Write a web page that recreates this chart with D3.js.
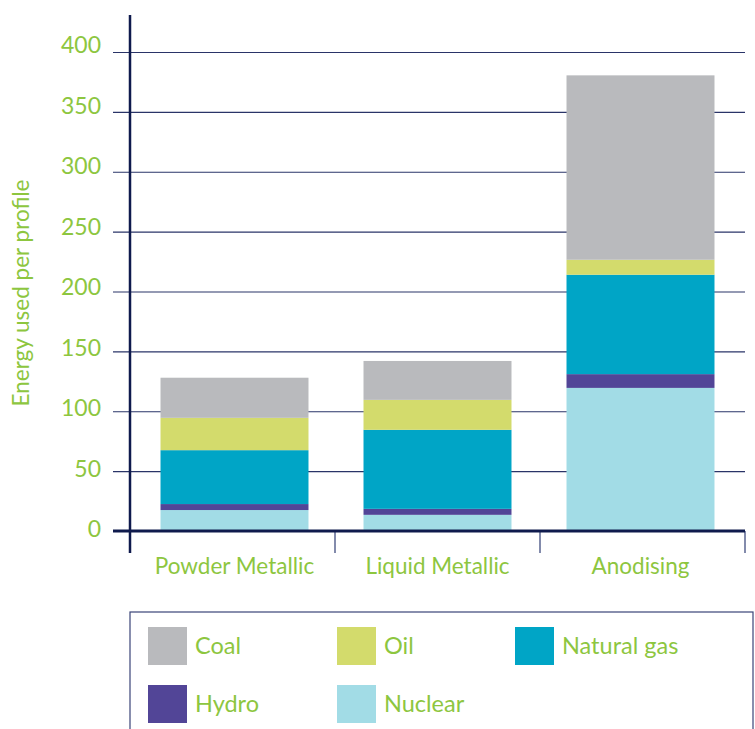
<!DOCTYPE html>
<html>
<head>
<meta charset="utf-8">
<script src="https://cdn.jsdelivr.net/npm/d3@7"></script>
<style>
  html, body { margin: 0; padding: 0; background: #fff; }
  svg { display: block; font-family: Lato, "Open Sans", sans-serif; }
  .grid line { stroke: #2a3468; stroke-width: 1.2; }
  .grid path { display: none; }
</style>
</head>
<body>
<svg id="chart" width="755" height="729"></svg>
<script>
// ── data ───────────────────────────────────────────────────────────────────
const categories = ['Powder Metallic', 'Liquid Metallic', 'Anodising'];
const nuclear    = [17.5, 13.5, 119.5];
const hydro      = [5, 5, 11.5];
const naturalGas = [45, 66, 83];
const oil        = [27, 25, 12.5];
const coal       = [33.5, 32.5, 154];
const yTicks     = [0, 50, 100, 150, 200, 250, 300, 350, 400];

const seriesNames  = ['Nuclear', 'Hydro', 'Natural gas', 'Oil', 'Coal'];
const seriesValues = [nuclear, hydro, naturalGas, oil, coal];
const colors = {
  'Coal': '#b9babd', 'Oil': '#d3db6c', 'Natural gas': '#00a5c6',
  'Hydro': '#524597', 'Nuclear': '#a2dce6'
};
const legendOrder = [['Coal', 'Oil', 'Natural gas'], ['Hydro', 'Nuclear']];
const GREEN = '#8dc63f', NAVY = '#0f1a4d';

// ── layout ─────────────────────────────────────────────────────────────────
const svg = d3.select('#chart');
const m = { left: 130, right: 745, top: 52, bottom: 531 };

const rows = categories.map((c, i) => {
  const r = { cat: c };
  seriesNames.forEach((s, j) => r[s] = seriesValues[j][i]);
  return r;
});
const stacked = d3.stack().keys(seriesNames)(rows);

const x = d3.scaleBand().domain(categories).range([133, 742]).paddingInner(0.271).paddingOuter(0.1355);
const xBand = d3.scaleBand().domain(categories).range([m.left, m.right]);
const y = d3.scaleLinear().domain([0, 400]).range([m.bottom, m.top]);
const yLabel = d3.scaleLinear().domain([0, 400]).range([529, 45]);

// gridlines
svg.append('g').attr('class', 'grid')
  .attr('transform', `translate(${m.right},0)`)
  .call(d3.axisLeft(y).tickValues(yTicks.slice(1)).tickSize(m.right - 113).tickFormat(''));

// tick labels
svg.append('g').selectAll('text').data(yTicks).join('text')
  .attr('x', 101).attr('y', d => yLabel(d))
  .attr('dy', '0.36em')
  .attr('text-anchor', 'end')
  .attr('fill', GREEN).attr('font-size', 23)
  .text(d => d);

// bars
svg.append('g').selectAll('g').data(stacked).join('g')
  .attr('fill', d => colors[d.key])
  .selectAll('rect').data(d => d).join('rect')
  .attr('x', d => x(d.data.cat))
  .attr('width', x.bandwidth())
  .attr('y', d => y(d[1]))
  .attr('height', d => y(d[0]) - y(d[1]));

// category separators
svg.append('g').selectAll('line').data(categories).join('line')
  .attr('x1', d => xBand(d) + xBand.bandwidth()).attr('x2', d => xBand(d) + xBand.bandwidth())
  .attr('y1', m.bottom).attr('y2', 553)
  .attr('stroke', '#5a6591').attr('stroke-width', 1.5);

// baseline & y axis
svg.append('line').attr('x1', 113).attr('x2', m.right).attr('y1', m.bottom).attr('y2', m.bottom)
  .attr('stroke', NAVY).attr('stroke-width', 3);
svg.append('line').attr('x1', m.left).attr('x2', m.left).attr('y1', 15).attr('y2', 553)
  .attr('stroke', NAVY).attr('stroke-width', 2.5);

// category labels
svg.append('g').selectAll('text').data(categories).join('text')
  .attr('x', d => x(d) + x.bandwidth() / 2).attr('y', 574)
  .attr('text-anchor', 'middle')
  .attr('fill', GREEN).attr('font-size', 22.5)
  .text(d => d);

// y title
svg.append('text')
  .attr('transform', 'translate(29,293) rotate(-90)')
  .attr('text-anchor', 'middle')
  .attr('fill', GREEN).attr('font-size', 22.5)
  .text('Energy used per profile');

// ── legend ─────────────────────────────────────────────────────────────────
svg.append('rect').attr('x', 130).attr('y', 612).attr('width', 623).attr('height', 140)
  .attr('fill', 'none').attr('stroke', '#3a4478').attr('stroke-width', 1.2);
const colX = [148, 337, 515];
const rowY = [627, 685];
legendOrder.forEach((row, ri) => {
  row.forEach((name, ci) => {
    svg.append('rect').attr('x', colX[ci]).attr('y', rowY[ri]).attr('width', 39).attr('height', 38)
      .attr('fill', colors[name]);
    svg.append('text').attr('x', colX[ci] + 47).attr('y', rowY[ri] + 27)
      .attr('fill', GREEN).attr('font-size', 23.5).text(name);
  });
});
</script>
</body>
</html>
